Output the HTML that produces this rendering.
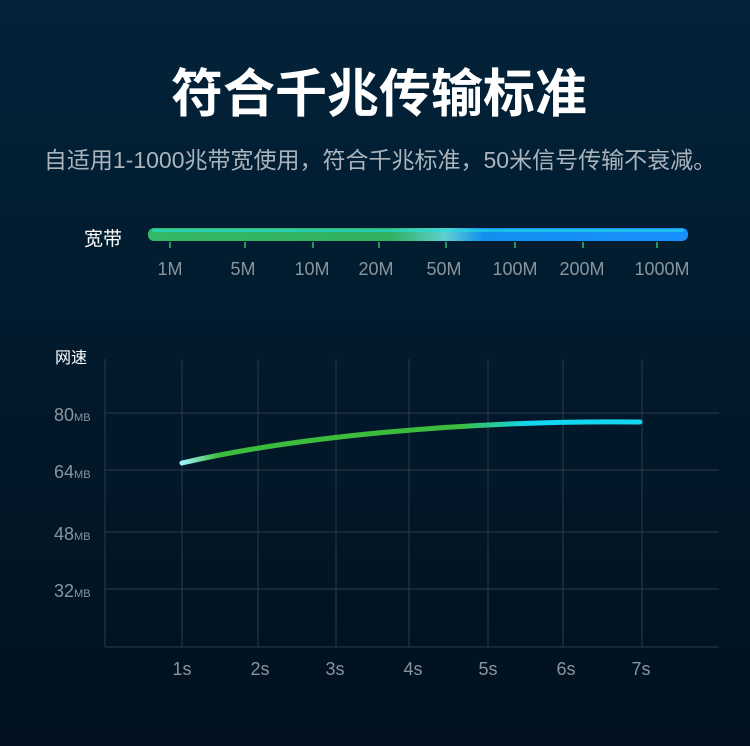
<!DOCTYPE html>
<html><head><meta charset="utf-8"><style>
html,body{margin:0;padding:0}
body{width:750px;height:746px;overflow:hidden;background:linear-gradient(180deg,#03233a 0%,#021b2e 40%,#01111f 100%);font-family:"Liberation Sans","Noto Sans CJK SC",sans-serif;position:relative}
.t{position:absolute;white-space:nowrap}
</style></head><body>
<div class="t" style="left:0;width:758px;top:52px;text-align:center;color:#fff;font-size:52px;font-weight:bold">符合千兆传输标准</div>
<div class="t" style="left:0;width:760px;top:141px;text-align:center;color:#aab4bd;font-size:23px">自适用1-1000兆带宽使用，符合千兆标准，50米信号传输不衰减。</div>
<div class="t" style="left:84px;top:224px;color:#fff;font-size:19px">宽带</div>
<svg width="750" height="746" style="position:absolute;left:0;top:0">
<defs>
<linearGradient id="bar" x1="0" x2="1">
<stop offset="0" stop-color="#35b866"/><stop offset="0.45" stop-color="#2fb160"/><stop offset="0.55" stop-color="#5fd0d0"/><stop offset="0.62" stop-color="#1290f0"/><stop offset="1" stop-color="#1a90ff"/>
</linearGradient>
<linearGradient id="ln" x1="182" x2="642" gradientUnits="userSpaceOnUse">
<stop offset="0" stop-color="#9ff4ff"/><stop offset="0.08" stop-color="#3cbc3c"/><stop offset="0.6" stop-color="#3cbc3c"/><stop offset="0.75" stop-color="#13d6f0"/><stop offset="1" stop-color="#13d6f0"/>
</linearGradient>
</defs>
<rect x="148" y="228" width="540" height="13" rx="6" fill="url(#bar)"/>
<rect x="152" y="229" width="532" height="3" rx="1.5" fill="#22e0e0" opacity="0.6"/>
<g stroke="#2fbf6a" stroke-width="1.5">
<line x1="170" y1="242" x2="170" y2="248"/><line x1="245" y1="242" x2="245" y2="248"/><line x1="313" y1="242" x2="313" y2="248"/><line x1="379" y1="242" x2="379" y2="248"/><line x1="446" y1="242" x2="446" y2="248"/><line x1="515" y1="242" x2="515" y2="248"/><line x1="583" y1="242" x2="583" y2="248"/><line x1="657" y1="242" x2="657" y2="248"/>
</g>
<g fill="#8a949c" font-size="18" text-anchor="middle" font-family="Liberation Sans,sans-serif">
<text x="170" y="275">1M</text><text x="243" y="275">5M</text><text x="312" y="275">10M</text><text x="376" y="275">20M</text><text x="444" y="275">50M</text><text x="515" y="275">100M</text><text x="582" y="275">200M</text><text x="662" y="275">1000M</text>
</g>
<g stroke="#2c3b48" stroke-width="1">
<line x1="105" y1="359" x2="105" y2="647"/>
<line x1="182" y1="359" x2="182" y2="647"/><line x1="258" y1="359" x2="258" y2="647"/><line x1="336" y1="359" x2="336" y2="647"/><line x1="409" y1="359" x2="409" y2="647"/><line x1="488" y1="359" x2="488" y2="647"/><line x1="563" y1="359" x2="563" y2="647"/><line x1="642" y1="359" x2="642" y2="647"/>
<line x1="105" y1="413" x2="719" y2="413"/><line x1="105" y1="470" x2="719" y2="470"/><line x1="105" y1="532" x2="719" y2="532"/><line x1="105" y1="589" x2="719" y2="589"/><line x1="105" y1="647" x2="719" y2="647"/>
</g>
<path d="M182 463 C290 438 460 420 640 422" stroke="url(#ln)" stroke-width="5" fill="none" stroke-linecap="round"/>
<g fill="#8a949c" font-family="Liberation Sans,sans-serif">
<text x="54" y="421" font-size="18">80<tspan font-size="11">MB</tspan></text>
<text x="54" y="478" font-size="18">64<tspan font-size="11">MB</tspan></text>
<text x="54" y="540" font-size="18">48<tspan font-size="11">MB</tspan></text>
<text x="54" y="597" font-size="18">32<tspan font-size="11">MB</tspan></text>
</g>
<g fill="#8a949c" font-size="18" text-anchor="middle" font-family="Liberation Sans,sans-serif">
<text x="182" y="675">1s</text><text x="260" y="675">2s</text><text x="335" y="675">3s</text><text x="413" y="675">4s</text><text x="488" y="675">5s</text><text x="566" y="675">6s</text><text x="641" y="675">7s</text>
</g>
</svg>
<div class="t" style="left:55px;top:344px;color:#fff;font-size:16px">网速</div>
</body></html>
